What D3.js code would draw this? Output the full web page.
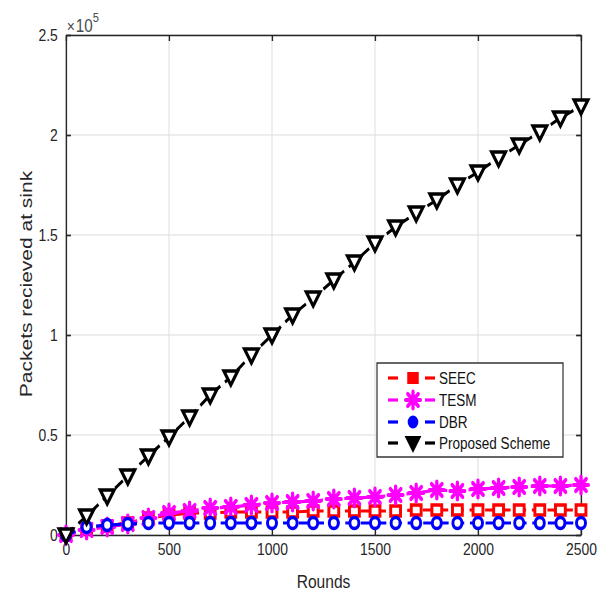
<!DOCTYPE html>
<html><head><meta charset="utf-8">
<script src="https://cdn.jsdelivr.net/npm/d3@7/dist/d3.min.js"></script>
<style>body{margin:0;background:#fff} svg{display:block}</style>
</head><body><svg id="c" width="607" height="594"></svg>
<script>
// ---- data ----
const rounds   = [0,100,200,300,400,500,600,700,800,900,1000,1100,1200,1300,1400,1500,1600,1700,1800,1900,2000,2100,2200,2300,2400,2500];
const seec     = [0,3000,4500,6000,8500,10000,11000,11000,11500,11500,11500,11500,12000,12000,12000,12000,12000,12500,12500,12500,12500,12500,12500,12500,12500,12500];
const tesm     = [0,2500,4000,5500,8500,11000,12000,13500,14000,15000,16000,16500,17000,18000,18500,19000,20000,21000,22500,22000,23000,23500,24000,24500,24500,25000];
const dbr      = [0,4000,5000,5500,6000,6000,6000,6000,6000,6000,6000,6000,6000,6000,6000,6000,6000,6000,6000,6000,6000,6000,6000,6000,6000,6000];
const proposed = [0,9500,19500,29500,39500,49000,59000,70000,79000,90000,100000,110000,118500,127500,136500,146000,154000,161000,167500,175000,181500,188500,195000,201500,208500,214500];
const seriesNames  = ["SEEC","TESM","DBR","Proposed Scheme"];
const seriesColors = ["#ff0000","#ff00ff","#0000ff","#000000"];
const seriesMarkers = ["square","asterisk","circle","triangleDown"];
const xTicks = [0,500,1000,1500,2000,2500];
const yTicks = [0,0.5,1,1.5,2,2.5];
const yScaleExp = 5;
const xLabel = "Rounds";
const yLabel = "Packets recieved at sink";

// ---- layout ----
const SX = 0.82;               // the reference figure is horizontally squeezed
const svg = d3.select("#c");
svg.append("rect").attr("width",607).attr("height",594).attr("fill","#fff");
const root = svg.append("g").attr("transform",`scale(${SX},1)`);
const L = 66/SX, R = 581/SX, T = 35, B = 535;
const x = d3.scaleLinear().domain([0,2500]).range([L,R]);
const y = d3.scaleLinear().domain([0,2.5]).range([B,T]);
const FONT = "'Liberation Sans', Arial, Helvetica, sans-serif";
const AX = "#262626";

// grid
const grid = root.append("g").attr("stroke","#dcdcdc").attr("stroke-width",1.2);
grid.selectAll(".gx").data(xTicks).join("line")
  .attr("x1",d=>x(d)).attr("x2",d=>x(d)).attr("y1",T).attr("y2",B);
grid.selectAll(".gy").data(yTicks).join("line")
  .attr("x1",L).attr("x2",R).attr("y1",d=>y(d)).attr("y2",d=>y(d));

function styleAxis(g){
  g.selectAll(".domain").attr("stroke",AX).attr("stroke-width",1.7);
  g.selectAll(".tick line").attr("stroke",AX).attr("stroke-width",1.7);
  g.selectAll("text").attr("fill",AX).attr("font-family",FONT).attr("font-size",17);
}
root.append("g").attr("transform",`translate(0,${B})`)
  .call(d3.axisBottom(x).tickValues(xTicks).tickFormat(d=>String(d)).tickSizeInner(-6).tickSizeOuter(0).tickPadding(8))
  .call(styleAxis);
root.append("g").attr("transform",`translate(0,${T})`)
  .call(d3.axisTop(x).tickValues(xTicks).tickFormat("").tickSizeInner(-6).tickSizeOuter(0))
  .call(styleAxis);
root.append("g").attr("transform",`translate(${L},0)`)
  .call(d3.axisLeft(y).tickValues(yTicks).tickFormat(d=>String(d)).tickSizeInner(-6).tickSizeOuter(0).tickPadding(10))
  .call(styleAxis);
root.append("g").attr("transform",`translate(${R},0)`)
  .call(d3.axisRight(y).tickValues(yTicks).tickFormat("").tickSizeInner(-6).tickSizeOuter(0))
  .call(styleAxis);

// exponent label
const ex = root.append("text").attr("x",L+1).attr("y",32)
  .attr("font-family",FONT).attr("fill","#4a4a4a");
ex.append("tspan").attr("font-size",17).text("\u00d7");
ex.append("tspan").attr("font-size",18.5).attr("dx",1).text("10");
ex.append("tspan").attr("font-size",13.5).attr("dy",-10).text(String(yScaleExp));

// axis labels
root.append("text").attr("x",(L+R)/2).attr("y",588).attr("text-anchor","middle")
  .attr("font-family",FONT).attr("font-size",19).attr("fill",AX).text(xLabel);
root.append("text").attr("transform",`translate(${32/SX},${(T+B)/2-1}) rotate(-90)`)
  .attr("text-anchor","middle").attr("font-family",FONT).attr("font-size",21).attr("fill",AX).text(yLabel);

// markers
function markerPath(type){
  switch(type){
    case "square": return "M-6,-5H6V5H-6Z";
    case "circle": return d3.arc()({innerRadius:0,outerRadius:5.5,startAngle:0,endAngle:2*Math.PI});
    case "triangleDown": return "M-8.5,-6H8.5L0,8Z";
    case "asterisk": {
      let p=""; for(let i=0;i<4;i++){const a=i*Math.PI/4, dx=9*Math.cos(a), dy=8.5*Math.sin(a); p+=`M${-dx},${-dy}L${dx},${dy}`;} return p;
    }
  }
}
function drawMarker(g, type, color, filled){
  const p = g.append("path").attr("d",markerPath(type));
  if(type==="asterisk"){
    p.attr("fill","none").attr("stroke",color).attr("stroke-width",4).attr("stroke-linecap","round");
    g.append("circle").attr("r",4.2).attr("fill",color);
  } else {
    p.attr("fill",filled?color:"#fff").attr("stroke",color).attr("stroke-width",filled?2:3.6).attr("stroke-linejoin","miter");
  }
}

const seriesData = [seec,tesm,dbr,proposed];
const line = d3.line().x(d=>x(d[0])).y(d=>y(d[1]/Math.pow(10,yScaleExp)));
const plot = root.append("g");
seriesData.forEach((vals,i)=>{
  const pts = rounds.map((r,j)=>[r,vals[j]]);
  const g = plot.append("g");
  g.append("path").attr("d",line(pts)).attr("fill","none").attr("stroke",seriesColors[i])
    .attr("stroke-width",3.2).attr("stroke-dasharray","12,7");
  pts.forEach(p=>{
    const mg = g.append("g").attr("transform",`translate(${x(p[0])},${y(p[1]/Math.pow(10,yScaleExp))})`);
    drawMarker(mg, seriesMarkers[i], seriesColors[i], false);
  });
});

// legend
const lg = root.append("g");
const lx0 = 377/SX, lx1 = 563/SX, ly0 = 363, ly1 = 457;
lg.append("rect").attr("x",lx0).attr("y",ly0).attr("width",lx1-lx0).attr("height",ly1-ly0)
  .attr("fill","#fff").attr("stroke",AX).attr("stroke-width",1.4);
const rowY = [378,400,422,443];
seriesNames.forEach((name,i)=>{
  const yy = rowY[i];
  const row = lg.append("g");
  row.append("line").attr("x1",388/SX).attr("x2",398/SX).attr("y1",yy).attr("y2",yy).attr("stroke",seriesColors[i]).attr("stroke-width",3.2);
  row.append("line").attr("x1",425/SX).attr("x2",435/SX).attr("y1",yy).attr("y2",yy).attr("stroke",seriesColors[i]).attr("stroke-width",3.2);
  drawMarker(row.append("g").attr("transform",`translate(${413/SX},${yy})`), seriesMarkers[i], seriesColors[i], true);
  row.append("text").attr("x",439/SX).attr("y",yy+6).attr("font-family",FONT).attr("font-size",16.5).attr("fill","#111").text(name);
});
</script></body></html>
